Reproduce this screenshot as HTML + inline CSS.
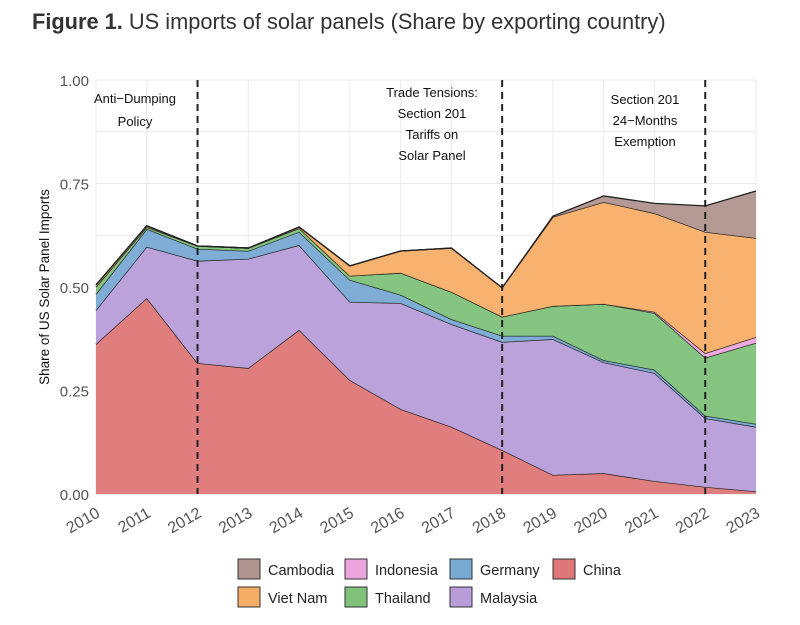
<!DOCTYPE html>
<html><head><meta charset="utf-8"><style>
body{margin:0;background:#fff;font-family:"Liberation Sans",sans-serif}
svg text{font-family:"Liberation Sans",sans-serif}
</style></head><body>
<svg id="c" width="800" height="620" xmlns="http://www.w3.org/2000/svg">
<text x="32" y="29" font-size="21.8" fill="#333"><tspan font-weight="bold">Figure 1.</tspan> US imports of solar panels (Share by exporting country)</text>
<g id="grid"></g><g id="areas"></g><g id="ann"></g><g id="axes"></g><g id="legend"></g>
</svg>
<script>
const years=[2010,2011,2012,2013,2014,2015,2016,2017,2018,2019,2020,2021,2022,2023];
const seriesNames=["China","Malaysia","Germany","Thailand","Indonesia","Viet Nam","Cambodia"];
const china=[.362,.473,.316,.304,.396,.275,.205,.162,.106,.046,.05,.031,.017,.006];
const malaysia=[.082,.124,.247,.264,.205,.189,.256,.248,.261,.328,.268,.261,.166,.156];
const germany=[.039,.043,.029,.019,.032,.053,.02,.012,.015,.008,.005,.008,.006,.007];
const thailand=[.017,.005,.007,.007,.009,.01,.053,.066,.046,.072,.136,.137,.14,.196];
const indonesia=[0,0,0,0,0,0,0,0,0,0,0,.003,.011,.014];
const vietnam=[.005,.003,0,0,.003,.024,.053,.106,.07,.215,.246,.238,.293,.239];
const cambodia=[0,0,0,0,0,0,0,0,0,.002,.015,.024,.063,.114];
const yTicks=[0,0.25,0.5,0.75,1];
const yTickLabels=["0.00","0.25","0.50","0.75","1.00"];
const eventYears=[2012,2018,2022];
const colors=["#de7676","#b89dd8","#78a9d3","#7fc27a","#eca5dc","#f6ae66","#b0948f"];
const data=[china,malaysia,germany,thailand,indonesia,vietnam,cambodia];
const NS="http://www.w3.org/2000/svg";
const X0=96,X1=756,Y0=494,Y1=80;
const x=v=>X0+(v-years[0])/(years[years.length-1]-years[0])*(X1-X0);
const y=v=>Y0-v*(Y0-Y1);
function mk(t,a,p){const e=document.createElementNS(NS,t);for(const k in a)e.setAttribute(k,a[k]);p.appendChild(e);return e;}
const grid=document.getElementById('grid');
for(let v=0;v<=1.0001;v+=0.125){const l=mk('line',{x1:X0,x2:X1,y1:y(v),y2:y(v),stroke:'#ebebeb','stroke-width':1},grid);

}
years.forEach(yr=>{const l=mk('line',{x1:x(yr),x2:x(yr),y1:Y1,y2:Y0,stroke:'#ebebeb','stroke-width':1},grid);

});
const areas=document.getElementById('areas');
let base=years.map(()=>0);
data.forEach((s,i)=>{const top=base.map((b,j)=>b+s[j]);
let d='M'+years.map((yr,j)=>x(yr)+','+y(top[j])).join('L');
for(let j=years.length-1;j>=0;j--)d+='L'+x(years[j])+','+y(base[j]);d+='Z';
const p=mk('path',{d:d,fill:colors[i],'fill-opacity':0.95,stroke:'none'},areas);


const ln=mk('path',{d:'M'+years.map((yr,j)=>x(yr)+','+y(top[j])).join('L'),fill:'none',stroke:'#222','stroke-width':1.3},areas);


base=top;});
const ann=document.getElementById('ann');
eventYears.forEach(yr=>{const l=mk('line',{x1:x(yr),x2:x(yr),y1:Y1,y2:Y0,stroke:'#222','stroke-width':2,'stroke-dasharray':'7,5'},ann);

});
const notes=[[135,[103,126],["Anti−Dumping","Policy"]],[432,[97,118,139,160],["Trade Tensions:","Section 201","Tariffs on","Solar Panel"]],[645,[104,125,146],["Section 201","24−Months","Exemption"]]];
notes.forEach((n,k)=>{n[2].forEach((t,i)=>{const e=mk('text',{x:n[0],y:n[1][i],'font-size':13,'text-anchor':'middle',fill:'#111'},ann);e.textContent=t;

});});
const ax=document.getElementById('axes');
yTicks.forEach((v,i)=>{const e=mk('text',{x:89,y:y(v)+6,'font-size':15,'text-anchor':'end',fill:'#555'},ax);e.textContent=yTickLabels[i];

});
years.forEach(yr=>{const e=mk('text',{x:x(yr)+5,y:516,'font-size':16,'text-anchor':'end',fill:'#555',transform:'rotate(-30 '+(x(yr)+5)+' 516)'},ax);e.textContent=yr;

});
const yt=mk('text',{x:49,y:287,'font-size':13.5,'text-anchor':'middle',fill:'#111',transform:'rotate(-90 49 287)'},ax);yt.textContent='Share of US Solar Panel Imports';


const lg=document.getElementById('legend');
const items=[["Cambodia",6,238,559],["Indonesia",4,345,559],["Germany",2,450,559],["China",0,553,559],["Viet Nam",5,238,587],["Thailand",3,345,587],["Malaysia",1,450,587]];
items.forEach(it=>{const g=mk('g',{},lg);


mk('rect',{x:it[2],y:it[3],width:22,height:20,fill:colors[it[1]],stroke:'#333','stroke-width':1},g);
const t=mk('text',{x:it[2]+30,y:it[3]+16,'font-size':14.5,fill:'#222'},g);t.textContent=it[0];});
</script>
</body></html>
